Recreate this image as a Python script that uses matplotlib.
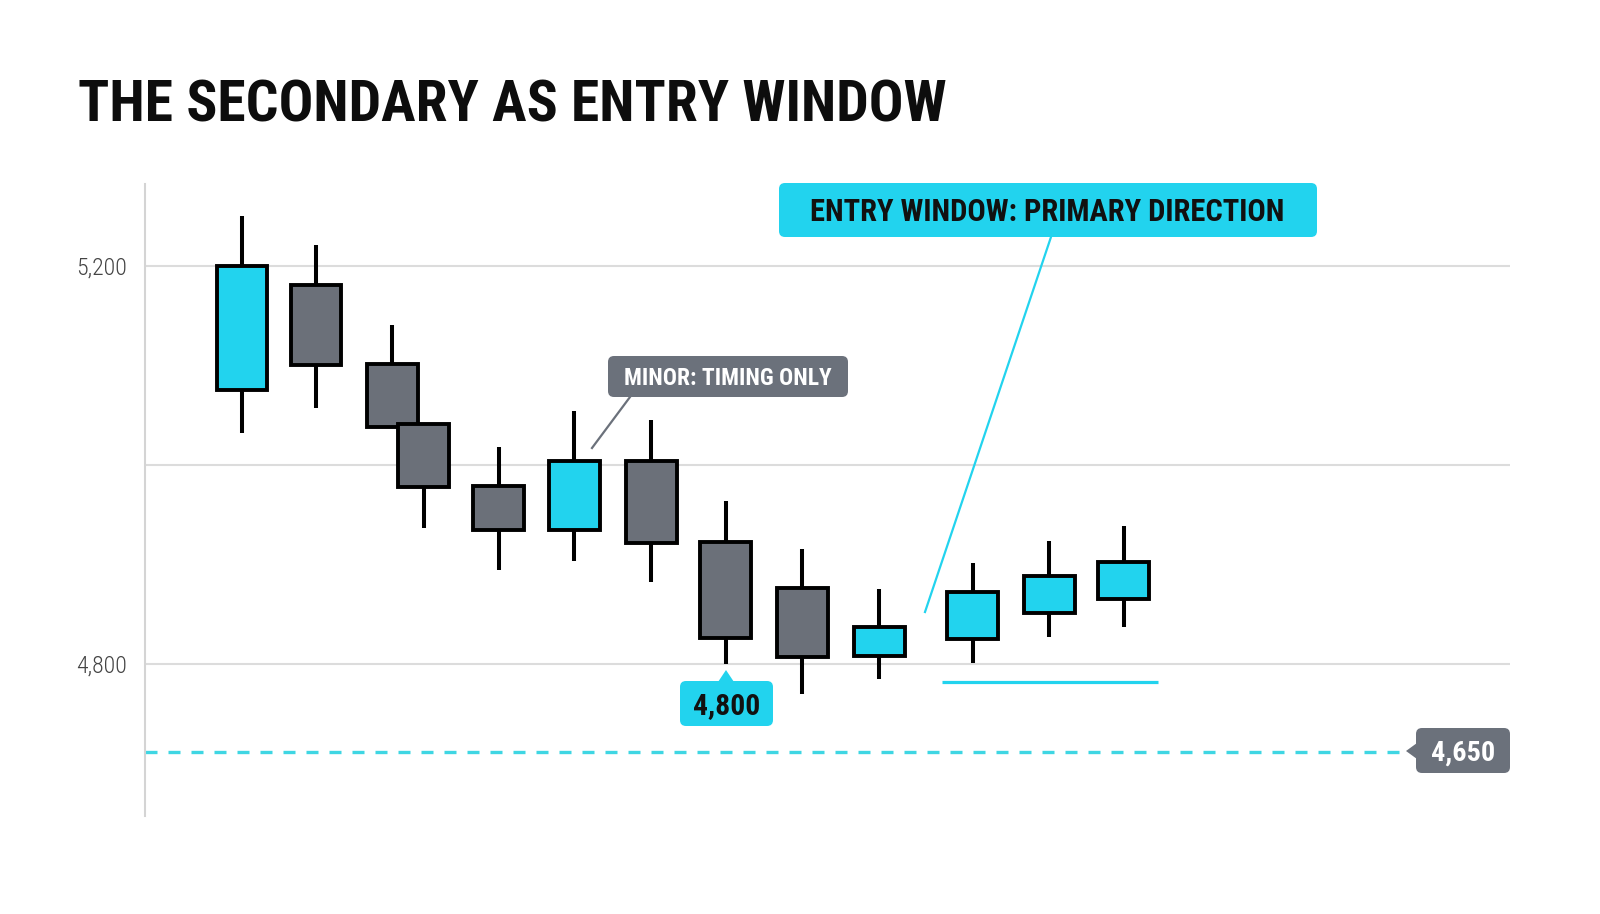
import matplotlib
matplotlib.use("Agg")
import matplotlib.pyplot as plt
from matplotlib.patches import FancyBboxPatch, Polygon
from matplotlib.lines import Line2D
from matplotlib.transforms import Affine2D

# ---------------- data ----------------
candle_x = [0, 0.98, 1.99, 2.41, 3.40, 4.40, 5.42, 6.41, 7.42, 8.44, 9.68, 10.69, 11.68]
opens  = [5075, 5181, 5101, 5041, 4979, 4935, 5004, 4923, 4876, 4808, 4825, 4851, 4865]
closes = [5200, 5100, 5038, 4978, 4935, 5004, 4922, 4826, 4807, 4837, 4872, 4888, 4902]
highs  = [5250, 5221, 5141, 5041, 5018, 5054, 5045, 4964, 4916, 4875, 4901, 4924, 4939]
lows   = [5032, 5057, 5038, 4937, 4894, 4903, 4882, 4800, 4770, 4785, 4801, 4827, 4837]
grid_levels = [4800, 5000, 5200]
tick_labels = ["4,800", "", "5,200"]
support_level = 4712
support_label = "4,650"
low_label = "4,800"
entry_zone_x = [9.27, 12.13]
entry_zone_y = 4782
title = "THE SECONDARY AS ENTRY WINDOW"
minor_text = "MINOR: TIMING ONLY"
entry_text = "ENTRY WINDOW: PRIMARY DIRECTION"

# ---------------- style ----------------
CYAN = "#22d3ee"
GRAY = "#6b7079"
LABEL_GRAY = "#6b717b"
GRID = "#dcdcdc"
COND = ["Roboto Condensed", "DejaVu Sans"]

W, H = 1600, 914
fig = plt.figure(figsize=(W / 100, H / 100), dpi=100)
fig.patch.set_facecolor("white")
tpx = Affine2D().scale(1 / W, -1 / H).translate(0, 1) + fig.transFigure

ax = fig.add_axes([145 / W, 1 - 816 / H, 1365 / W, 632 / H])
ax.set_xlim(-1.285, 16.795)
ax.set_ylim(4647.2, 5282.4)
for s in ["top", "right", "bottom"]:
    ax.spines[s].set_visible(False)
ax.spines["left"].set_color("#d4d4d4")
ax.spines["left"].set_linewidth(1.5)
ax.set_xticks([])
ax.set_yticks(grid_levels)
ax.set_yticklabels(tick_labels, family=COND, fontsize=17.2, fontweight=300, color="#444444")
ax.tick_params(axis="y", length=0, pad=13)
ax.yaxis.grid(True, color=GRID, linewidth=1.5)
ax.set_axisbelow(True)

# candles
colors = [CYAN if c >= o else GRAY for o, c in zip(opens, closes)]
ax.vlines(candle_x, lows, highs, color="black", linewidth=2.9, zorder=2)
ax.bar(candle_x, [c - o for o, c in zip(opens, closes)], bottom=opens, width=0.675,
       color=colors, edgecolor="black", linewidth=2.8, zorder=3)

# support dashed line
ax.hlines(support_level, -1.285, 15.42, colors="#3fd6e3", linestyles=(0, (3.6, 3.3)),
          linewidth=2.4, zorder=1)
# entry zone underline
ax.hlines(entry_zone_y, entry_zone_x[0], entry_zone_x[1], colors=CYAN, linewidth=2.3, zorder=2)

# ---------------- annotations (pixel layout) ----------------
def box(x0, y0, x1, y1, color, r=6):
    p = FancyBboxPatch((x0, y0), x1 - x0, y1 - y0,
                       boxstyle=f"round,pad=0,rounding_size={r}",
                       transform=tpx, facecolor=color, edgecolor="none", zorder=5)
    fig.add_artist(p)

def label(x, y_base, s, size, color):
    fig.text(x, y_base, s, transform=tpx, ha="center", va="baseline",
             fontsize=size, fontweight="bold", color=color, family=COND, zorder=6)

# title
fig.text(78, 121, title, transform=tpx, ha="left", va="baseline", fontsize=41.5,
         fontweight="bold", color="#0d0d0d", family=COND)

# minor label
fig.add_artist(Line2D([630, 592], [397, 448], transform=tpx, color=LABEL_GRAY, linewidth=1.6))
box(608, 356, 848, 397, LABEL_GRAY)
label(728, 385, minor_text, 16.9, "white")

# entry label
fig.add_artist(Line2D([1051, 925], [237, 612], transform=tpx, color=CYAN, linewidth=1.6))
box(779, 183, 1317, 237, CYAN)
label(1047, 221, entry_text, 22, "#111111")

# 4,800 label under candle low
box(680, 681, 773, 726, CYAN)
fig.add_artist(Polygon([[718, 682], [726, 670], [734, 682]], closed=True, transform=tpx,
                       facecolor=CYAN, edgecolor="none", zorder=5))
label(726.5, 714, low_label, 21.3, "#111111")

# 4,650 label at right end
box(1416, 728, 1510, 773, LABEL_GRAY)
fig.add_artist(Polygon([[1417, 743], [1406, 751], [1417, 759]], closed=True, transform=tpx,
                       facecolor=LABEL_GRAY, edgecolor="none", zorder=5))
label(1463, 761, support_label, 20.3, "white")

fig.savefig("out.png", dpi=100, facecolor="white")
